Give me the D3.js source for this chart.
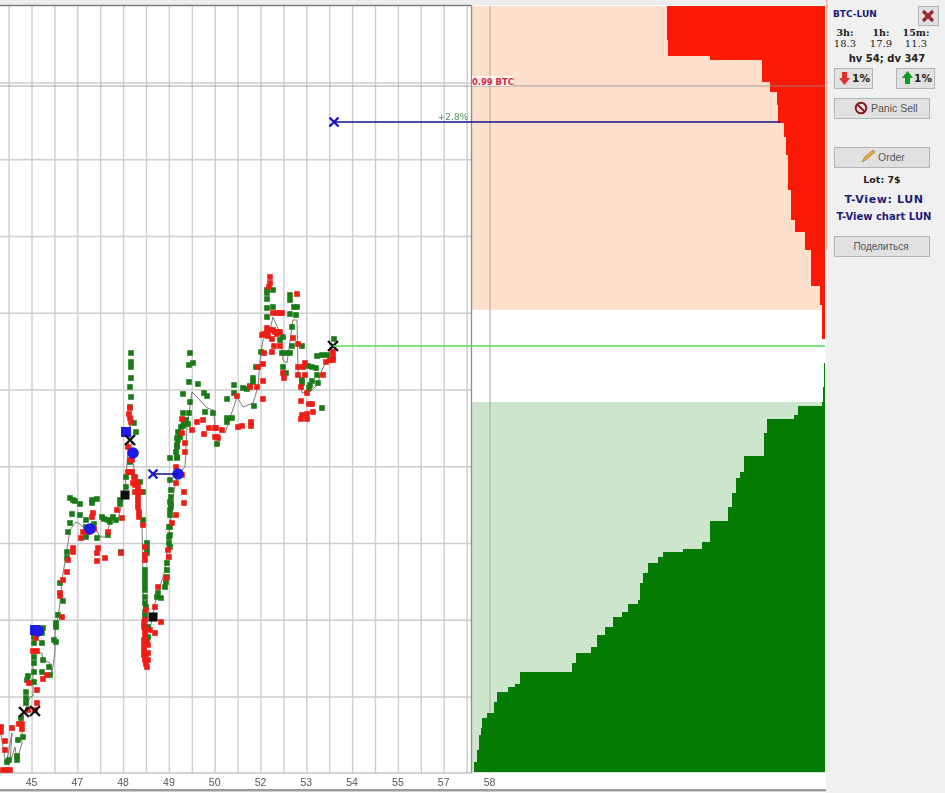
<!DOCTYPE html>
<html><head><meta charset="utf-8">
<style>html,body{margin:0;padding:0;background:#fff;overflow:hidden}svg{display:block}</style>
<script src="https://cdn.jsdelivr.net/npm/d3@7/dist/d3.min.js"></script>
</head><body><div id="c"></div>
<script>
// [time, price] — time runs from the "45" tick, price from the chart floor (no y labels in the source)
const buyTrades=[[-23,12],[-25,10],[-15,12],[-15,16],[-14,32],[-9,35],[-11,54],[-6,69],[-6,74],[-6,80],[-4,96],[-5,92],[2,90],[2,100],[2,109],[2,115],[2,129],[2,135],[11,144],[10,139],[10,129],[11,112],[10,100],[17,105],[18,97],[22,132],[24,130],[24,149],[24,145],[26,157],[31,171],[28,189],[35,220],[35,214],[36,240],[38,249],[40,258],[38,274],[41,272],[43,271],[48,268],[48,257],[60,272],[60,269],[65,273],[54,252],[54,245],[62,248],[65,234],[54,235],[70,255],[76,252],[72,253],[78,250],[84,252],[81,255],[76,237],[89,220],[88,272],[88,268],[94,285],[94,295],[98,310],[104,340],[98,365],[99,375],[98,385],[99,394],[99,405],[99,410],[99,419],[102,349],[108,290],[111,280],[111,252],[115,229],[115,224],[115,219],[113,202],[113,197],[113,192],[113,187],[113,182],[113,175],[113,169],[114,165],[113,160],[113,155],[113,145],[116,145],[116,135],[125,175],[129,174],[126,179],[133,185],[135,202],[135,209],[135,195],[134,190],[137,229],[138,237],[137,245],[138,225],[137,235],[138,245],[138,257],[139,265],[138,270],[139,269],[139,275],[139,282],[138,262],[138,292],[138,314],[145,314],[145,325],[144,320],[146,332],[146,340],[148,335],[149,345],[151,346],[152,350],[154,352],[156,348],[151,359],[157,359],[151,378],[158,370],[157,390],[166,388],[172,379],[175,376],[157,407],[161,409],[158,419],[173,360],[185,328],[181,359],[195,354],[195,350],[200,354],[195,373],[202,379],[202,387],[211,384],[215,383],[218,386],[221,390],[221,394],[224,405],[229,420],[222,366],[235,479],[235,482],[241,482],[235,473],[235,464],[235,455],[241,465],[258,477],[258,472],[262,465],[265,465],[258,458],[264,457],[260,445],[251,435],[248,432],[260,426],[270,426],[250,419],[255,419],[258,419],[251,405],[254,399],[270,392],[270,389],[276,406],[280,405],[284,404],[285,397],[280,391],[278,387],[286,389],[277,384],[285,416],[290,417],[295,417],[290,364],[302,433],[145,334],[145,327],[145,315]];
const sellTrades=[[-31,45],[-31,40],[-27,31],[-27,22],[-29,2],[-26,2],[-22,2],[-20,44],[-10,48],[-13,48],[-10,43],[-4,62],[3,62],[5,69],[5,82],[-3,89],[11,93],[15,97],[1,121],[5,121],[4,134],[30,155],[28,179],[28,176],[31,192],[35,200],[36,212],[41,224],[41,220],[49,234],[51,240],[55,240],[62,243],[61,259],[60,255],[66,224],[65,219],[65,211],[73,214],[76,240],[85,262],[89,219],[90,254],[98,354],[98,364],[97,358],[99,350],[96,325],[98,312],[100,312],[98,300],[96,300],[100,300],[103,295],[102,295],[101,289],[105,290],[103,287],[106,285],[103,280],[106,280],[108,280],[106,275],[106,270],[106,265],[107,260],[107,255],[111,247],[113,225],[113,217],[113,212],[113,152],[112,150],[112,145],[113,140],[113,135],[112,132],[112,127],[112,122],[112,117],[113,112],[114,108],[115,105],[116,119],[116,112],[114,118],[115,130],[116,127],[118,142],[123,139],[114,162],[123,165],[129,150],[126,185],[134,194],[136,222],[137,215],[140,249],[144,257],[144,289],[152,280],[152,269],[150,297],[144,305],[153,320],[150,353],[150,339],[160,342],[165,350],[171,352],[177,344],[172,338],[184,344],[185,335],[238,495],[237,485],[238,489],[245,459],[248,459],[241,459],[250,459],[235,440],[235,444],[238,442],[243,440],[241,442],[245,438],[246,440],[248,440],[230,437],[232,438],[236,436],[232,419],[240,433],[242,426],[240,420],[248,426],[226,405],[231,408],[231,391],[225,385],[231,373],[218,385],[205,376],[206,345],[210,346],[219,350],[219,346],[265,478],[261,434],[266,428],[251,399],[252,394],[266,405],[266,397],[273,397],[273,409],[271,405],[269,385],[269,371],[275,379],[277,368],[280,368],[270,357],[269,353],[275,353],[275,358],[281,360],[291,397],[301,415],[301,420],[301,412],[294,410],[298,412],[153,329],[183,344],[183,335],[186,334],[190,342]];
const priceLine=[[-31,37],[-26,7],[-20,39],[-22,9],[-17,25],[-15,12],[-10,29],[-10,52],[-2,75],[1,76],[1,119],[10,119],[11,112],[18,109],[20,99],[23,120],[23,139],[26,155],[28,169],[30,192],[36,229],[38,242],[44,250],[48,248],[51,245],[61,249],[68,235],[75,235],[78,252],[86,252],[93,282],[95,309],[98,349],[101,309],[105,285],[110,245],[111,199],[112,145],[118,142],[123,169],[133,202],[138,245],[140,272],[146,299],[153,305],[155,345],[160,380],[165,375],[175,364],[181,362],[183,349],[182,345],[193,339],[205,375],[211,365],[221,369],[226,385],[228,412],[231,432],[238,442],[241,455],[248,439],[251,412],[255,409],[261,452],[265,452],[266,402],[270,379],[278,380],[285,387],[290,402],[301,424]];
const blueSquares=[[3,142],[94,340]];
const blueDots=[[6,141],[58,243],[101,319],[146,298]];
const blackSquares=[[93,277],[121,155]];
const blackCrosses=[[-8,60],[3,61],[98,332],[301,426]];
const blueCrosses=[[121,298],[302,650]];
const orderLines=[[[121,298],[146,298]],[[302,650],[748,650]]];
const lastPrice=426, balancePrice=686, lastTime=301;
// order book: price level and cumulative volume
const askPrice=[766,732,716,712,690,680,667,649,635,617,582,552,540,522,486,467,433];
const askVolume=[158,157,115,63,55,48,47,41,39,37,34,30,20,14,5,3,3];
const bidPrice=[409,385,370,366,357,353,339,316,300,294,279,265,251,230,223,220,215,209,199,189,172,168,160,155,145,137,125,119,109,100,88,85,80,70,59,54,44,37,22,10,0];
const bidVolume=[1,2,3,27,31,58,61,81,85,89,93,97,115,123,142,162,167,177,182,185,187,197,203,212,220,228,234,249,253,305,310,317,328,331,338,343,344,346,348,351,351];
const tickLabels=["45","47","48","49","50","52","53","54","55","57","58"];
const stats=[["3h:","18.3"],["1h:","17.9"],["15m:","11.3"]];

const W=945,H=793;
const x=d3.scaleLinear().domain([-32,793]).range([0,825]);
const y=d3.scaleLinear().domain([0,766]).range([772,6]);
const vol=d3.scaleLinear().domain([0,353]).range([825,472]);
const svg=d3.select("#c").append("svg").attr("width",W).attr("height",H);
const rect=(g,a,b,w,h,f)=>g.append("rect").attr("x",a).attr("y",b).attr("width",w).attr("height",h).attr("fill",f);
svg.append("defs").append("filter").attr("id","soft").attr("x","-5%").attr("y","-5%").attr("width","110%").attr("height","110%")
 .append("feGaussianBlur").attr("stdDeviation",.45);

rect(svg,0,0,W,H,"#fff");
rect(svg,0,0,W,5,"#ededed");

// grid
const gridStep=22.9;
const gridX=d3.range(-1,20).map(i=>i*gridStep);
const gridY=d3.range(0,9).map(i=>75+i*76.75);
const grid=svg.append("g").attr("stroke","#cdcdcd").attr("stroke-width",1.4);
grid.selectAll("line.v").data(gridX).join("line").attr("class","v")
 .attr("x1",d=>x(d)).attr("x2",d=>x(d)).attr("y1",6).attr("y2",773);
grid.selectAll("line.h").data(gridY).join("line").attr("class","h")
 .attr("x1",0).attr("x2",471).attr("y1",d=>y(d)).attr("y2",d=>y(d));

// book backgrounds
rect(svg,472,6,353,304,"#fddfcc");
rect(svg,472,310,353,92,"#fff");
rect(svg,472,402,353,371,"#cde4cd");
svg.append("line").attr("x1",x(458)).attr("x2",x(458)).attr("y1",6).attr("y2",773).attr("stroke","#b4b4a8").attr("stroke-width",1.2);

// book areas
const bookArea=d3.area().curve(d3.curveStepBefore).y(d=>y(d[0])).x0(vol(0)).x1(d=>vol(d[1]));
svg.append("path").attr("d",bookArea(askPrice.map((p,i)=>[p,askVolume[i]]))).attr("fill","#fb1a06");
svg.append("path").attr("d",bookArea(bidPrice.map((p,i)=>[p,bidVolume[i]]))).attr("fill","#047c04");

// borders
svg.append("line").attr("x1",0).attr("x2",471).attr("y1",5.5).attr("y2",5.5).attr("stroke","#7d7d7d").attr("stroke-width",1.4);
svg.append("line").attr("x1",471.5).attr("x2",471.5).attr("y1",5).attr("y2",773).attr("stroke","#8d8d8d").attr("stroke-width",1.3);
svg.append("line").attr("x1",0).attr("x2",472).attr("y1",773).attr("y2",773).attr("stroke","#a8a8a8").attr("stroke-width",1.2);
rect(svg,0,789,W,2.5,"#9c9c9c");

// balance line
svg.append("line").attr("x1",0).attr("x2",825).attr("y1",y(balancePrice)).attr("y2",y(balancePrice)).attr("stroke","#8e8e8e").attr("stroke-opacity",.75).attr("stroke-width",1.2);
svg.append("rect").attr("x",472).attr("y",76).attr("width",41).attr("height",10).attr("fill","#fff").attr("fill-opacity",.65);
svg.append("text").attr("x",472).attr("y",85).attr("font-family","DejaVu Sans").attr("font-size",8.4).attr("font-weight",700).attr("fill","#cf2748").text("0.99 BTC");

// price path + trades
const marks=svg.append("g").attr("filter","url(#soft)");
marks.append("path").attr("d",d3.line().x(d=>x(d[0])).y(d=>y(d[1]))(priceLine)).attr("fill","none").attr("stroke","#6f6a66").attr("stroke-width",.9);
const sq=5.6;
marks.append("g").attr("fill","#1a7a18").selectAll("rect").data(buyTrades).join("rect")
 .attr("x",d=>x(d[0])-sq/2).attr("y",d=>y(d[1])-sq/2).attr("width",sq).attr("height",sq);
marks.append("g").attr("fill","#ee1c14").selectAll("rect").data(sellTrades).join("rect")
 .attr("x",d=>x(d[0])-sq/2).attr("y",d=>y(d[1])-sq/2).attr("width",sq).attr("height",sq);

// order levels
svg.append("g").selectAll("line").data(orderLines).join("line")
 .attr("x1",d=>x(d[0][0])).attr("x2",d=>x(d[1][0])).attr("y1",d=>y(d[0][1])).attr("y2",d=>y(d[1][1]))
 .attr("stroke","#12128c").attr("stroke-width",1.5);
svg.append("line").attr("x1",x(lastTime)).attr("x2",x(793)).attr("y1",y(lastPrice)).attr("y2",y(lastPrice)).attr("stroke","#55dd55").attr("stroke-width",1.5);
svg.append("text").attr("x",453).attr("y",120).attr("text-anchor","middle").attr("font-family","DejaVu Sans").attr("font-size",9).attr("fill","#4f9a62").text("+2.8%");

// markers
const hex=d3.symbol().type(d3.symbolCircle).size(105);
marks.append("g").attr("fill","#1a1ae6").selectAll("rect").data(blueSquares).join("rect")
 .attr("x",d=>x(d[0])-5).attr("y",d=>y(d[1])-5).attr("width",10).attr("height",10);
marks.append("g").attr("fill","#1a1ae6").selectAll("path").data(blueDots).join("path").attr("d",hex)
 .attr("transform",d=>`translate(${x(d[0])},${y(d[1])})`);
marks.append("g").attr("fill","#0c0c0c").selectAll("rect").data(blackSquares).join("rect")
 .attr("x",d=>x(d[0])-4.5).attr("y",d=>y(d[1])-4.5).attr("width",9).attr("height",9);
const cross=(data,col,r,sw)=>marks.append("g").selectAll("path").data(data).join("path")
 .attr("d",`M${-r},${-r}L${r},${r}M${-r},${r}L${r},${-r}`).attr("stroke",col).attr("stroke-width",sw).attr("fill","none")
 .attr("transform",d=>`translate(${x(d[0])},${y(d[1])})`);
cross(blackCrosses,"#111",5,2.4);
cross(blueCrosses,"#1414d0",4.5,2.4);

// axis
const tickPos=tickLabels.map((_,i)=>i*gridStep*2-1);
const axis=d3.axisBottom(x).tickValues(tickPos).tickSize(0).tickFormat((d,i)=>tickLabels[i]);
const ax=svg.append("g").attr("transform","translate(0,773)").call(axis);
ax.select(".domain").remove();
ax.selectAll("text").attr("font-family","Liberation Sans").attr("font-size",10.5).attr("fill","#555").attr("dy",".95em");

// side panel
const p=svg.append("g");
rect(p,826,0,119,793,"#f0f0f0");
rect(p,826,0,1.5,250,"#f6b3ae");
const t=(s,a,b,opt={})=>p.append("text").attr("x",a).attr("y",b).attr("text-anchor",opt.anchor||"middle")
 .attr("font-family",opt.font||"DejaVu Sans").attr("font-size",opt.size||10).attr("font-weight",opt.weight||400).attr("fill",opt.fill||"#222")
 .attr("letter-spacing",opt.ls||0).text(s);
const btn=(a,b,w,h)=>p.append("rect").attr("x",a+.5).attr("y",b+.5).attr("width",w).attr("height",h).attr("fill","#e1e1e1").attr("stroke","#b4b4b4");
t("BTC-LUN",833,17,{anchor:"start",weight:700,size:9,fill:"#1c1c78"});
btn(918,6,20,19);
p.append("path").attr("d","M923,11L933,21M933,11L923,21").attr("stroke","#a3262a").attr("stroke-width",3.2);
const statX=[845,881,916];
stats.forEach((s,i)=>{t(s[0],statX[i],36,{font:"DejaVu Serif",weight:700,size:9.5});t(s[1],statX[i],47,{font:"DejaVu Serif",size:10});});
t("hv 54; dv 347",887,62,{weight:700,size:10});
btn(834,68,38,20);btn(896,68,38,20);
p.append("path").attr("d","M842,72h5v6h3l-5.5,7l-5.5,-7h3z").attr("fill","#e03030");
p.append("path").attr("d","M905,84h5v-6h3l-5.5,-7l-5.5,7h3z").attr("fill","#0f9a20");
t("1%",861,82,{weight:700,size:10.5});t("1%",923,82,{weight:700,size:10.5});
btn(834,98,95,20);
p.append("circle").attr("cx",861).attr("cy",108).attr("r",5.3).attr("fill","none").attr("stroke","#8c1820").attr("stroke-width",2);
p.append("line").attr("x1",857.5).attr("y1",104.5).attr("x2",864.5).attr("y2",111.5).attr("stroke","#8c1820").attr("stroke-width",2);
t("Panic Sell",871,112,{anchor:"start",fill:"#555",font:"Liberation Sans",size:10.5});
btn(834,147,95,20);
p.append("path").attr("d","M862,162l3,-5l8,-7l2,2l-8,7z").attr("fill","#e8b040").attr("stroke","#a07020").attr("stroke-width",.7);
t("Order",878,161,{anchor:"start",fill:"#555",font:"Liberation Sans",size:10.5});
t("Lot: 7$",882,183,{weight:700,size:9.5});
t("T-View: LUN",884,203,{weight:700,size:11,ls:.6,fill:"#1c1c78"});
t("T-View chart LUN",884,220,{weight:700,size:10,fill:"#1c1c78"});
btn(834,236,95,20);
t("Поделиться",881,250,{fill:"#555",size:10,font:"Liberation Sans"});
</script></body></html>
